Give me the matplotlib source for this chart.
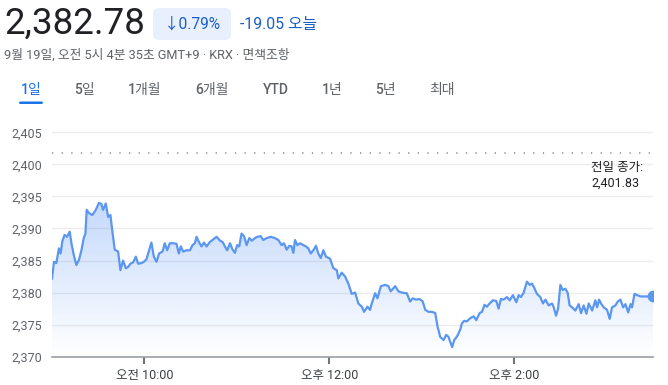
import numpy as np
import matplotlib.pyplot as plt
from matplotlib.patches import FancyBboxPatch

# minutes after 09:00 and index level
minutes = [0.0, 1.3, 2.8, 4.5, 5.6, 6.7, 8.2, 9.7, 11.5, 12.6, 14.1, 15.8, 17.5, 19.1, 20.6,
           21.7, 22.5, 24.0, 26.2, 28.4, 30.5, 32.1, 33.1, 34.9, 36.4, 37.9, 39.2, 40.7, 42.9,
           44.4, 46.1, 47.9, 49.4, 50.9, 52.6, 54.4, 55.9, 58.0, 59.6, 61.3, 63.0, 64.5, 66.1,
           67.8, 69.5, 71.7, 73.2, 74.7, 76.5, 78.6, 80.8, 82.3, 83.6, 85.1, 87.3, 89.5, 91.2,
           92.7, 93.8, 95.3, 97.0, 98.6, 100.3, 102.5, 104.6, 106.8, 109.0, 110.7, 112.2, 113.7,
           115.5, 117.2, 118.7, 120.2, 121.5, 123.0, 124.6, 126.3, 128.0, 129.7, 131.7, 133.2,
           135.4, 137.1, 139.3, 141.9, 144.7, 146.9, 149.0, 150.5, 152.3, 154.0, 155.5, 156.6,
           157.7, 159.2, 160.9, 163.1, 164.8, 166.3, 167.9, 169.6, 171.3, 172.8, 174.4, 176.1,
           177.8, 180.4, 182.6, 184.8, 185.8, 188.0, 190.2, 192.3, 194.5, 196.7, 198.8, 201.0,
           202.5, 204.7, 206.4, 207.5, 209.7, 211.2, 213.4, 216.2, 218.3, 219.8, 222.7, 224.8,
           227.0, 230.2, 232.4, 234.1, 236.3, 238.5, 240.6, 242.2, 244.3, 246.5, 248.7, 250.2,
           251.9, 254.1, 255.8, 257.3, 258.4, 259.7, 261.0, 262.7, 264.9, 266.0, 267.5, 269.2,
           271.4, 273.6, 275.3, 277.5, 279.0, 280.7, 282.2, 284.0, 286.1, 288.3, 289.8, 291.3,
           293.1, 295.2, 297.0, 299.1, 301.3, 302.8, 304.3, 306.1, 308.2, 310.0, 311.5, 313.0,
           314.7, 316.9, 318.6, 320.2, 322.3, 324.5, 325.6, 327.1, 328.4, 329.9, 331.4, 333.1,
           334.6, 335.9, 337.5, 339.6, 341.8, 343.3, 345.0, 346.8, 348.3, 350.5, 352.6, 353.7,
           355.0, 356.3, 358.0, 360.2, 361.9, 363.4, 365.6, 367.1, 368.9, 370.6, 372.1, 373.9,
           375.4, 376.4, 378.0, 379.7, 381.9, 385.1, 390.0]
prices = [2382.2, 2384.8, 2384.6, 2386.9, 2386.1, 2388.0, 2389.0, 2388.7, 2389.5, 2387.7, 2385.9,
          2384.3, 2385.1, 2386.6, 2388.5, 2389.2, 2392.9, 2392.4, 2392.1, 2392.9, 2394.0, 2393.8,
          2392.9, 2393.9, 2391.8, 2392.1, 2389.5, 2386.7, 2386.4, 2383.5, 2385.0, 2383.8, 2384.0,
          2384.5, 2384.7, 2385.6, 2384.5, 2384.6, 2384.8, 2385.2, 2386.6, 2387.8, 2385.6, 2384.8,
          2386.1, 2386.4, 2387.7, 2386.6, 2387.7, 2387.7, 2387.6, 2386.1, 2387.2, 2386.4, 2386.6,
          2386.6, 2387.4, 2387.7, 2388.7, 2387.9, 2387.2, 2387.8, 2387.2, 2387.9, 2388.3, 2388.7,
          2388.1, 2387.9, 2387.2, 2386.6, 2387.7, 2386.7, 2386.2, 2387.4, 2387.2, 2389.2, 2388.8,
          2387.4, 2388.5, 2388.1, 2388.5, 2388.7, 2388.8, 2388.2, 2388.5, 2388.7, 2388.5, 2388.2,
          2387.4, 2387.7, 2386.7, 2387.3, 2387.2, 2386.2, 2388.2, 2387.4, 2387.7, 2387.4, 2387.2,
          2386.9, 2386.1, 2386.6, 2387.3, 2386.1, 2385.4, 2386.6, 2385.6, 2385.3, 2383.8, 2383.5,
          2382.2, 2383.1, 2382.5, 2381.4, 2379.8, 2380.0, 2378.3, 2377.8, 2377.0, 2377.8, 2377.3,
          2378.3, 2379.9, 2379.1, 2381.0, 2381.2, 2381.0, 2380.2, 2381.0, 2380.2, 2380.0, 2379.9,
          2378.6, 2379.1, 2378.9, 2379.0, 2378.6, 2377.3, 2377.0, 2377.0, 2376.8, 2374.7, 2373.1,
          2372.6, 2373.4, 2373.1, 2372.3, 2371.5, 2372.6, 2373.1, 2374.2, 2375.2, 2375.6, 2375.5,
          2376.0, 2376.3, 2375.7, 2376.8, 2377.0, 2378.1, 2377.8, 2378.3, 2378.8, 2378.7, 2377.5,
          2379.0, 2378.9, 2379.3, 2378.8, 2379.6, 2378.5, 2379.6, 2379.3, 2380.0, 2381.7, 2381.2,
          2381.4, 2380.7, 2379.8, 2379.3, 2378.3, 2378.9, 2378.0, 2378.3, 2377.7, 2376.4, 2377.5,
          2381.2, 2380.4, 2380.6, 2380.0, 2378.0, 2377.7, 2377.2, 2378.2, 2376.8, 2378.0, 2376.7,
          2378.3, 2377.2, 2378.8, 2377.7, 2378.9, 2378.3, 2377.7, 2377.3, 2375.9, 2377.7, 2378.0,
          2378.6, 2378.9, 2377.7, 2378.2, 2376.9, 2378.2, 2377.7, 2379.8, 2379.6, 2379.4, 2379.4,
          2379.4]

prev_close = 2401.83
y_ticks = [2370, 2375, 2380, 2385, 2390, 2395, 2400, 2405]
x_ticks = [60, 180, 300]
x_labels = ['오전 10:00', '오후 12:00', '오후 2:00']
tabs = ['1일', '5일', '1개월', '6개월', 'YTD', '1년', '5년', '최대']
tab_x = [31, 84, 145, 212, 276, 332, 385, 442]

FONT = ['Roboto', 'Noto Sans CJK KR', 'DejaVu Sans']
plt.rcParams['font.family'] = FONT

W, H = 668, 385
fig = plt.figure(figsize=(W / 100, H / 100), dpi=100)


def fx(x):
    return x / W


def fy(y):
    return 1 - y / H


# header
fig.text(fx(4), fy(24), '2,382.78', fontsize=26.5, color='#202124', va='center')
badge = FancyBboxPatch((fx(153), fy(40)), fx(78), 32 / H,
                       boxstyle='round,pad=0,rounding_size=0.012',
                       transform=fig.transFigure, facecolor='#e8f0fe', edgecolor='none')
fig.patches.append(badge)
fig.text(fx(192), fy(24), '↓0.79%', fontsize=11.2, color='#1a5fc8', ha='center', va='center')
fig.text(fx(240), fy(24), '-19.05 오늘', fontsize=11.4, color='#1a5fc8', va='center')
fig.text(fx(4), fy(55), '9월 19일, 오전 5시 4분 35초 GMT+9 · KRX · 면책조항',
         fontsize=9.2, color='#5f6368', va='center')

for t, x in zip(tabs, tab_x):
    c = '#1a73e8' if t == '1일' else '#5f6368'
    fig.text(fx(x), fy(90), t, fontsize=10, color=c, ha='center', va='center', fontweight='medium')
fig.patches.append(FancyBboxPatch((fx(19), fy(104)), fx(24), 2.5 / H,
                                  boxstyle='round,pad=0,rounding_size=0.003',
                                  transform=fig.transFigure, facecolor='#1a73e8', edgecolor='none'))

# chart
ax = fig.add_axes([fx(52), fy(356.7), fx(601), (356.7 - 125.9) / H])
ax.set_xlim(0, 390)
ax.set_ylim(2370, 2406)

x = np.array(minutes)
y = np.array(prices)

ax.set_yticks(y_ticks)
ax.set_yticklabels([f'{v:,}' for v in y_ticks])
ax.grid(axis='y', color='#ececec', lw=1)
ax.set_axisbelow(True)

# gradient fill under the line
poly = ax.fill_between(x, y, 2370, color='none', lw=0)
grad = np.zeros((256, 1, 4))
c = np.array([66, 133, 244]) / 255
grad[:, 0, :3] = c
grad[:, 0, 3] = np.linspace(0.32, 0.0, 256)
img = ax.imshow(grad, aspect='auto', extent=[0, 390, 2370, 2395], origin='upper', zorder=1)
img.set_clip_path(poly.get_paths()[0], transform=ax.transData)

ax.plot(x, y, color='#5b96f0', lw=1.6, zorder=3, solid_joinstyle='round')
ax.plot(x[-1], y[-1], 'o', color='#5b96f0', ms=7.5, zorder=4)

ax.axhline(prev_close, color='#80868b', lw=1.1, ls=(0, (0.8, 5.5)), zorder=2)
ax.text(0.897, 0.85, '전일 종가:\n2,401.83', transform=ax.transAxes, fontsize=9,
        color='#202124', va='top', linespacing=1.35)

ax.set_xticks(x_ticks)
ax.set_xticklabels(x_labels)
for s in ['top', 'right', 'left']:
    ax.spines[s].set_visible(False)
ax.spines['bottom'].set_color('#9aa0a6')
ax.spines['bottom'].set_linewidth(1.2)
ax.tick_params(axis='x', length=5, width=1.5, color='#70757a', labelsize=9,
               labelcolor='#3c4043', pad=4)
ax.tick_params(axis='y', length=0, labelsize=9, labelcolor='#5f6368', pad=7)

fig.savefig('out.png', dpi=100)
